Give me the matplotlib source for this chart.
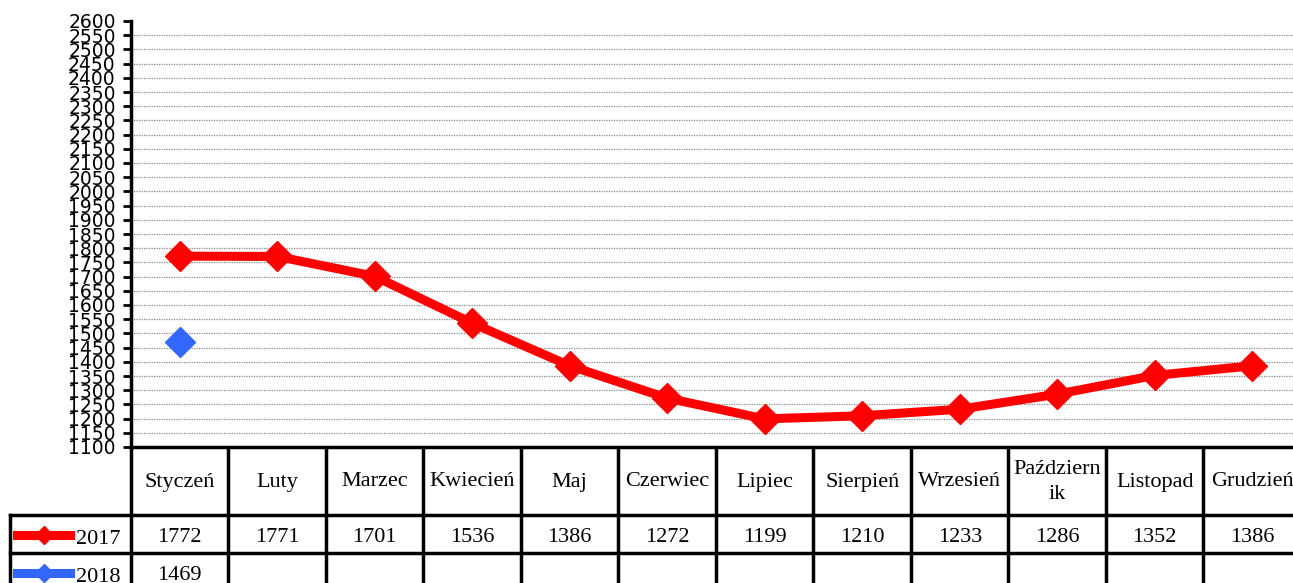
import numpy as np
import matplotlib
matplotlib.use("Agg")
import matplotlib.pyplot as plt

months = ["Styczeń", "Luty", "Marzec", "Kwiecień", "Maj", "Czerwiec", "Lipiec",
          "Sierpień", "Wrzesień", "Październ\nik", "Listopad", "Grudzień"]
series_names = ["2017", "2018"]
values_2017 = [1772, 1771, 1701, 1536, 1386, 1272, 1199, 1210, 1233, 1286, 1352, 1386]
values_2018 = [1469]
colors = ["#FF0000", "#3366FF"]
yticks = list(range(1100, 2601, 50))

W, H = 1293, 583
fig = plt.figure(figsize=(W / 100, H / 100), dpi=100)

col_w = 97.5
x_left_px = 131
ax_bottom_px = 447
ax_top_px = 21
ax = fig.add_axes([x_left_px / W, 1 - ax_bottom_px / H,
                   12 * col_w / W, (ax_bottom_px - ax_top_px) / H])

x = np.arange(len(months))
ax.plot(x, values_2017, color=colors[0], lw=6.5, marker="D", ms=15,
        solid_joinstyle="round", zorder=3)
ax.plot(x[:len(values_2018)], values_2018, color=colors[1], lw=6.5, marker="D",
        ms=15, zorder=3)
ax.set_xlim(-0.5, 11.5)
ax.set_ylim(1100, 2600)

ax.set_yticks(yticks)
ax.set_yticklabels([str(v) for v in yticks], fontsize=13.5, family="DejaVu Sans")
ax.tick_params(axis="y", length=6, width=2, pad=5, direction="out")
ax.set_xticks([])
for v in yticks[1:-1]:
    ax.axhline(v, color="#888888", lw=0.9, ls=(0, (1, 1)), zorder=1)
for s in ["top", "right", "bottom"]:
    ax.spines[s].set_visible(False)
ax.spines["left"].set_linewidth(2.5)

# table axes: x in main data units, y in pixels from figure bottom
top = H - ax_bottom_px   # 136
tax = fig.add_axes([0, 0, 1, top / H])
tax.set_autoscale_on(False)
x0 = -0.5 - x_left_px / col_w
x1 = -0.5 + (W - x_left_px) / col_w
tax.set_xlim(x0, x1)
tax.set_ylim(0, top)
tax.axis("off")

lw = 2.5
r1 = top - 68            # header row bottom
r2 = r1 - 38             # 2017 row bottom
bottom = -10
left_edge = -0.5 - (x_left_px - 10) / col_w
right_edge = 11.5

tax.plot([-0.5, right_edge], [top, top], color="black", lw=lw, clip_on=False)
tax.plot([left_edge, right_edge], [r1, r1], color="black", lw=lw)
tax.plot([left_edge, right_edge], [r2, r2], color="black", lw=lw)
for i in range(13):
    xe = -0.5 + i
    tax.plot([xe, xe], [bottom, top], color="black", lw=lw)
tax.plot([left_edge, left_edge], [bottom, r1], color="black", lw=lw)

for i, m in enumerate(months):
    tax.text(i, (top + r1) / 2 - 1, m, ha="center", va="center", fontsize=16,
             family="Liberation Serif", linespacing=1.45)
for i, v in enumerate(values_2017):
    tax.text(i, (r1 + r2) / 2 - 3, str(v), ha="center", va="center",
             fontsize=16, family="Liberation Serif")
for i, v in enumerate(values_2018):
    tax.text(i, 8, str(v), ha="center", va="center",
             fontsize=16, family="Liberation Serif")

key_x0 = left_edge + 7 / col_w
key_x1 = left_edge + 60 / col_w
for j, (name, c) in enumerate(zip(series_names, colors)):
    yc = [(r1 + r2) / 2 - 1, 10][j]
    tax.plot([key_x0, key_x1], [yc, yc], color=c, lw=6.5)
    tax.plot([(key_x0 + key_x1) / 2], [yc], color=c, marker="D", ms=9)
    tax.text(key_x1 + 6 / col_w, yc - 4, name, ha="left", va="center",
             fontsize=16, family="Liberation Serif")

fig.savefig("out.png", dpi=100)
